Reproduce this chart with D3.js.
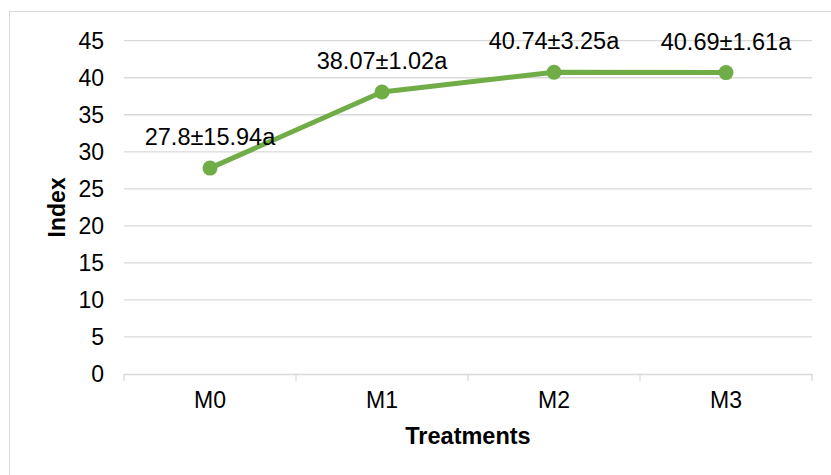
<!DOCTYPE html>
<html>
<head>
<meta charset="utf-8">
<script src="https://cdn.jsdelivr.net/npm/d3@7"></script>
<style>
  body { margin: 0; background: #fff; }
  text { font-family: "Liberation Sans", Arial, sans-serif; fill: #000; }
</style>
</head>
<body>
<svg id="chart" width="831" height="475"></svg>
<script>
var treatments = ["M0", "M1", "M2", "M3"];
var means = [27.8, 38.07, 40.74, 40.69];
var labels = ["27.8±15.94a", "38.07±1.02a", "40.74±3.25a", "40.69±1.61a"];
var yTicks = [0, 5, 10, 15, 20, 25, 30, 35, 40, 45];

var svg = d3.select("#chart");
var margin = { left: 124, right: 19, top: 40.7, bottom: 101 };
var width = 831 - margin.left - margin.right,
    height = 475 - margin.top - margin.bottom;

// chart area border
svg.append("rect")
  .attr("x", 9.5).attr("y", 11.5)
  .attr("width", 840).attr("height", 480)
  .attr("fill", "none").attr("stroke", "#d9d9d9");

var g = svg.append("g").attr("transform", "translate(" + margin.left + "," + margin.top + ")");

var x = d3.scaleBand().domain(treatments).range([0, width]);
var y = d3.scaleLinear().domain([0, 45]).range([height, 0]);

// gridlines
g.selectAll(".grid").data(yTicks.slice(1)).enter().append("line")
  .attr("x1", 0).attr("x2", width)
  .attr("y1", function (d) { return y(d); }).attr("y2", function (d) { return y(d); })
  .attr("stroke", "#d9d9d9").attr("stroke-width", 1.3);

// y axis labels
var yAxis = g.append("g").call(d3.axisLeft(y).tickValues(yTicks).tickSize(0).tickPadding(20));
yAxis.select(".domain").remove();
yAxis.selectAll("text").style("font-size", "23px");

// x axis
var xAxis = g.append("g").attr("transform", "translate(0," + height + ")")
  .call(d3.axisBottom(x).tickSize(0).tickPadding(18));
xAxis.select(".domain").attr("stroke", "#d9d9d9").attr("stroke-width", 1.3);
xAxis.selectAll("text").style("font-size", "23px");

var bounds = [0].concat(treatments.map(function (t) { return x(t) + x.bandwidth(); }));
g.selectAll(".xtick").data(bounds).enter().append("line")
  .attr("x1", function (d) { return d; }).attr("x2", function (d) { return d; })
  .attr("y1", height).attr("y2", height + 7)
  .attr("stroke", "#d9d9d9").attr("stroke-width", 1.3);

var cx = function (d, i) { return x(treatments[i]) + x.bandwidth() / 2; };

var line = d3.line()
  .x(function (d, i) { return cx(d, i); })
  .y(function (d) { return y(d); });

g.append("path").datum(means)
  .attr("d", line)
  .attr("fill", "none").attr("stroke", "#70ad47")
  .attr("stroke-width", 5).attr("stroke-linejoin", "round");

g.selectAll(".dot").data(means).enter().append("circle")
  .attr("cx", cx).attr("cy", function (d) { return y(d); })
  .attr("r", 7.5).attr("fill", "#70ad47");

g.selectAll(".lbl").data(means).enter().append("text")
  .attr("x", cx).attr("y", function (d) { return y(d) - 23; })
  .attr("text-anchor", "middle").style("font-size", "23.5px")
  .text(function (d, i) { return labels[i]; });

// axis titles
svg.append("text")
  .attr("x", margin.left + width / 2).attr("y", 444)
  .attr("text-anchor", "middle")
  .style("font-size", "23.5px").style("font-weight", "bold")
  .text("Treatments");

svg.append("text")
  .attr("transform", "translate(65," + (margin.top + height / 2) + ") rotate(-90)")
  .attr("text-anchor", "middle")
  .style("font-size", "23px").style("font-weight", "bold")
  .text("Index");
</script>
</body>
</html>
